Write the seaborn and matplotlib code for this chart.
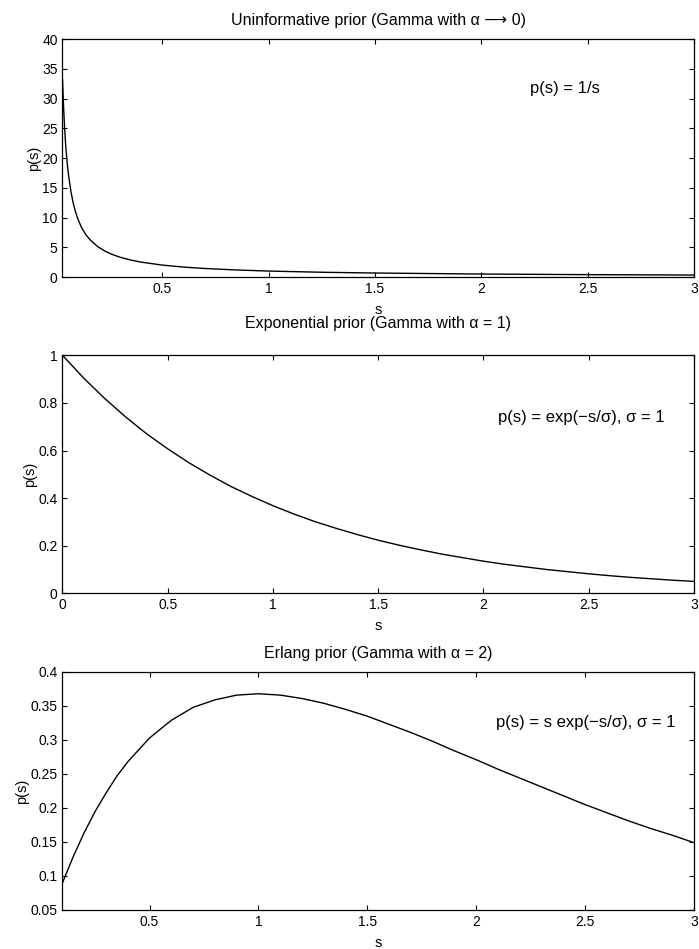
import matplotlib
matplotlib.use("Agg")
import matplotlib.pyplot as plt
import seaborn as sns

# values
s_uninf = [0.03, 0.035, 0.04, 0.045, 0.05, 0.055, 0.06, 0.07, 0.08, 0.09, 0.1, 0.11,
           0.12, 0.14, 0.16, 0.18, 0.2, 0.23, 0.26, 0.3, 0.35, 0.4, 0.5, 0.6, 0.7,
           0.85, 1.0, 1.25, 1.5, 2.0, 2.5, 3.0]
p_uninf = [33.3, 28.6, 25.0, 22.2, 20.0, 18.2, 16.7, 14.3, 12.5, 11.1, 10.0, 9.1,
           8.3, 7.1, 6.25, 5.6, 5.0, 4.35, 3.85, 3.33, 2.86, 2.5, 2.0, 1.67, 1.43,
           1.18, 1.0, 0.8, 0.67, 0.5, 0.4, 0.33]

s_exp = [0.0, 0.1, 0.2, 0.3, 0.4, 0.5, 0.6, 0.7, 0.8, 0.9, 1.0, 1.1, 1.2, 1.3, 1.4, 1.5,
         1.6, 1.7, 1.8, 1.9, 2.0, 2.1, 2.2, 2.3, 2.4, 2.5, 2.6, 2.7, 2.8, 2.9, 3.0]
p_exp = [1.0, 0.905, 0.819, 0.741, 0.670, 0.607, 0.549, 0.497, 0.449, 0.407, 0.368,
         0.333, 0.301, 0.273, 0.247, 0.223, 0.202, 0.183, 0.165, 0.150, 0.135, 0.122,
         0.111, 0.100, 0.091, 0.082, 0.074, 0.067, 0.061, 0.055, 0.050]

s_erl = [0.1, 0.15, 0.2, 0.25, 0.3, 0.35, 0.4, 0.5, 0.6, 0.7, 0.8, 0.9, 1.0, 1.1, 1.2,
         1.3, 1.4, 1.5, 1.6, 1.7, 1.8, 1.9, 2.0, 2.1, 2.2, 2.3, 2.4, 2.5, 2.6, 2.7,
         2.8, 2.9, 3.0]
p_erl = [0.090, 0.129, 0.164, 0.195, 0.222, 0.247, 0.268, 0.303, 0.329, 0.348, 0.359,
         0.366, 0.368, 0.366, 0.361, 0.354, 0.345, 0.335, 0.323, 0.311, 0.298, 0.284,
         0.271, 0.257, 0.244, 0.231, 0.218, 0.205, 0.193, 0.181, 0.170, 0.160, 0.149]

titles = ["Uninformative prior (Gamma with \u03b1 \u27f6 0)",
          "Exponential prior (Gamma with \u03b1 = 1)",
          "Erlang prior (Gamma with \u03b1 = 2)"]
notes = ["p(s) = 1/s",
         "p(s) = exp(\u2212s/\u03c3), \u03c3 = 1",
         "p(s) = s exp(\u2212s/\u03c3), \u03c3 = 1"]

xticks_top = [0.5, 1, 1.5, 2, 2.5, 3]
xticks_mid = [0, 0.5, 1, 1.5, 2, 2.5, 3]
yticks_top = [0, 5, 10, 15, 20, 25, 30, 35, 40]
yticks_mid = [0, 0.2, 0.4, 0.6, 0.8, 1]
yticks_bot = [0.05, 0.1, 0.15, 0.2, 0.25, 0.3, 0.35, 0.4]

sns.set_style("ticks")
plt.rcParams["font.family"] = ["Liberation Sans", "DejaVu Sans"]
plt.rcParams.update({
    "xtick.direction": "in", "ytick.direction": "in",
    "xtick.top": True, "ytick.right": True,
    "xtick.major.size": 3.8, "ytick.major.size": 3.8,
    "xtick.major.width": 0.8, "ytick.major.width": 0.8,
    "axes.linewidth": 0.9, "axes.edgecolor": "black",
    "xtick.color": "black", "ytick.color": "black",
    "text.color": "black", "axes.labelcolor": "black",
    "font.size": 10,
})


def fmt(v):
    return f"{v:g}"


def setup_axis(ax, title, title_pad, note, note_xy, xlim, ylim, xticks, yticks):
    ax.set_xlim(*xlim)
    ax.set_ylim(*ylim)
    ax.set_xticks(xticks)
    ax.set_xticklabels([fmt(v) for v in xticks])
    ax.set_yticks(yticks)
    ax.set_yticklabels([fmt(v) for v in yticks])
    ax.tick_params(labelsize=10, pad=3.5)
    ax.set_title(title, fontsize=11.5, pad=title_pad, color="black")
    ax.set_xlabel("s", fontsize=10.5, labelpad=5)
    ax.set_ylabel("p(s)", fontsize=10.5, labelpad=1)
    ax.text(note_xy[0], note_xy[1], note, fontsize=12, ha="left", va="center")


fig = plt.figure(figsize=(6.99, 9.49), dpi=100)
left, width, height = 0.0894, 0.9034, 0.2508
ax1 = fig.add_axes([left, 0.7081, width, height])
ax2 = fig.add_axes([left, 0.3748, width, height])
ax3 = fig.add_axes([left, 0.0411, width, height])

sns.lineplot(x=s_uninf, y=p_uninf, ax=ax1, color="black", linewidth=1)
sns.lineplot(x=s_exp, y=p_exp, ax=ax2, color="black", linewidth=1)
sns.lineplot(x=s_erl, y=p_erl, ax=ax3, color="black", linewidth=1)

setup_axis(ax1, titles[0], 10, notes[0], (2.23, 31.6), (0.03, 3), (0, 40), xticks_top, yticks_top)
setup_axis(ax2, titles[1], 20, notes[1], (2.07, 0.74), (0, 3), (0, 1), xticks_mid, yticks_mid)
setup_axis(ax3, titles[2], 10, notes[2], (2.09, 0.325), (0.1, 3), (0.05, 0.4), xticks_top, yticks_bot)

fig.savefig("out.png", dpi=100)
